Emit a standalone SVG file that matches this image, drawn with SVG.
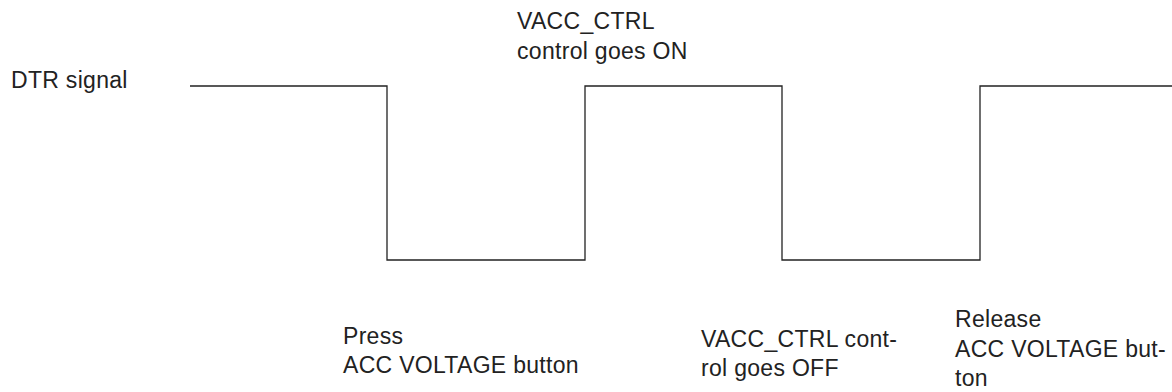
<svg xmlns="http://www.w3.org/2000/svg" width="1172" height="392" viewBox="0 0 1172 392">
<style>
.t{font-family:"Liberation Sans",Arial,sans-serif;font-size:23px;letter-spacing:0.3px;fill:#222}
.w{fill:none;stroke:#222;stroke-width:1.3}
</style>
<rect width="1172" height="392" fill="#fff"/>
<g id="connectors">
<polyline class="w" points="190,86 387,86 387,260 585,260 585,86 782,86 782,260 980,260 980,86 1172,86"/>
</g>
<g id="dtr-label"><text class="t" x="11" y="88">DTR signal</text></g>
<g id="on-label"><text class="t" x="517" y="29">VACC_CTRL</text><text class="t" x="517" y="59">control goes ON</text></g>
<g id="press-label"><text class="t" x="343" y="344">Press</text><text class="t" x="343" y="373">ACC VOLTAGE button</text></g>
<g id="off-label"><text class="t" x="701" y="347">VACC_CTRL cont-</text><text class="t" x="701" y="376">rol goes OFF</text></g>
<g id="release-label"><text class="t" x="955" y="327">Release</text><text class="t" x="955" y="357">ACC VOLTAGE but-</text><text class="t" x="955" y="386">ton</text></g>
</svg>
